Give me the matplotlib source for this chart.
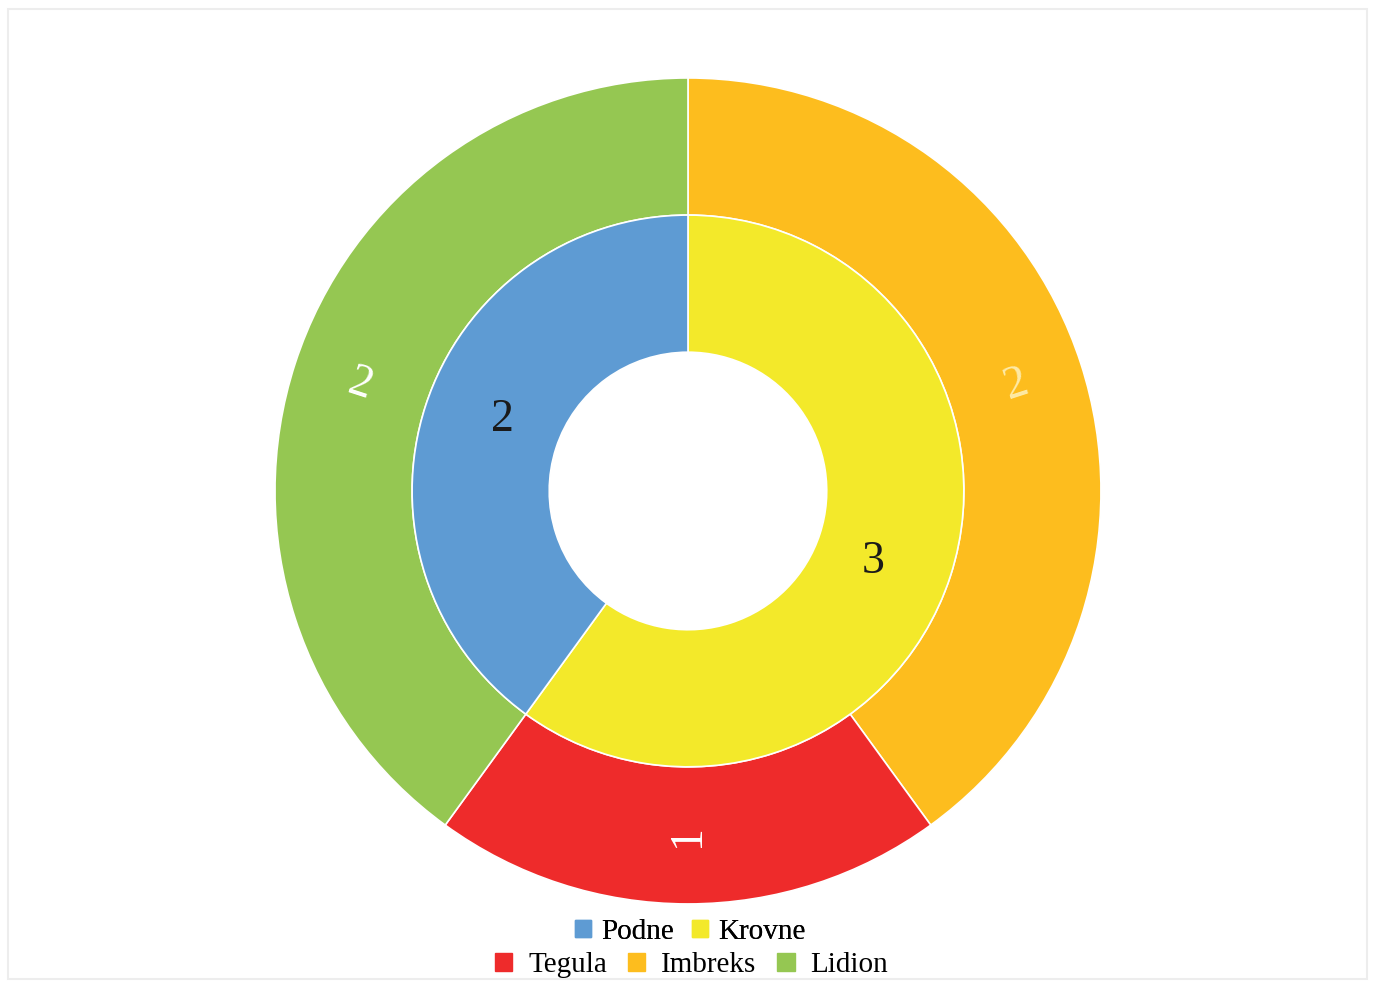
import matplotlib.pyplot as plt
from matplotlib.patches import Patch, Rectangle
import numpy as np

# data
inner_labels = ['Krovne', 'Podne']
inner_values = [3, 2]
inner_colors = ['#f3e92a', '#5e9bd3']

outer_labels = ['Imbreks', 'Tegula', 'Lidion']
outer_values = [2, 1, 2]
outer_colors = ['#fdbd1e', '#ee2b2b', '#95c752']

plt.rcParams['font.family'] = ['Liberation Serif', 'DejaVu Serif']

fig = plt.figure(figsize=(13.75, 9.83), dpi=100)
fig.patches.append(Rectangle((0.006, 0.004), 0.988, 0.987, transform=fig.transFigure,
                             fill=False, edgecolor='#ededed', linewidth=1.5))

ax = fig.add_axes([0.2, 0.0804, 0.6007, 0.8403])
ax.axis('off')

width = 0.332
wedges_out, _ = ax.pie(outer_values, radius=1.0, colors=outer_colors, startangle=90,
                       counterclock=False,
                       wedgeprops=dict(width=width, edgecolor='white', linewidth=1.2))
wedges_in, _ = ax.pie(inner_values, radius=1.0 - width, colors=inner_colors, startangle=90,
                      counterclock=False,
                      wedgeprops=dict(width=width, edgecolor='white', linewidth=1.2))
ax.set_xlim(-1, 1)
ax.set_ylim(-1, 1)
ax.set_aspect('equal')

# outer labels, rotated along the radius
out_text_colors = ['#fdeaa6', 'white', 'white']
for w, v, c in zip(wedges_out, outer_values, out_text_colors):
    ang = (w.theta1 + w.theta2) / 2
    r = 0.835
    x, y = r * np.cos(np.radians(ang)), r * np.sin(np.radians(ang))
    rot = ang
    if rot > 90:
        rot -= 180
    elif rot < -90:
        rot += 180
    ax.text(x, y, str(v), ha='center', va='center', fontsize=33, color=c, rotation=rot)

# inner labels
for w, v in zip(wedges_in, inner_values):
    ang = (w.theta1 + w.theta2) / 2 - 3
    r = 0.48
    x, y = r * np.cos(np.radians(ang)), r * np.sin(np.radians(ang))
    ax.text(x, y, str(v), ha='center', va='center', fontsize=33, color='#1a1a1a')

# legend in two rows
h1 = [Patch(color=c) for c in inner_colors[::-1]]
leg1 = fig.legend(h1, inner_labels[::-1], ncol=2, loc='center', bbox_to_anchor=(0.502, 0.052),
                  frameon=False, fontsize=21, handlelength=0.55, handleheight=0.55,
                  handletextpad=0.35, columnspacing=0.6, borderpad=0)
h2 = [Patch(color=c) for c in [outer_colors[1], outer_colors[0], outer_colors[2]]]
fig.legend(h2, ['Tegula', 'Imbreks', 'Lidion'], ncol=3, loc='center',
           bbox_to_anchor=(0.503, 0.018), frameon=False, fontsize=21,
           handlelength=0.6, handleheight=0.6, handletextpad=0.55,
           columnspacing=0.7, borderpad=0)
fig.add_artist(leg1)

fig.savefig('out.png', dpi=100)
